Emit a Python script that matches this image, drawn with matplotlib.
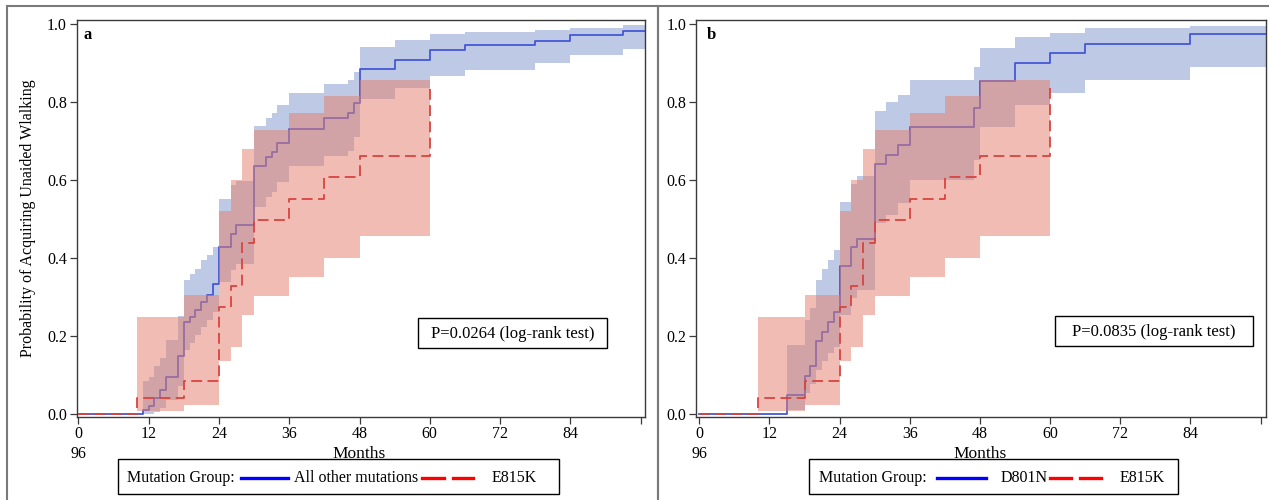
# Kaplan-Meier style curves: acquisition of unaided walking by mutation group.
import numpy as np
import matplotlib.pyplot as plt
from matplotlib.lines import Line2D
from matplotlib.patches import Rectangle

plt.rcParams["font.family"] = "Liberation Serif"

# ---- data ---------------------------------------------------------------
month_ticks = [0, 12, 24, 36, 48, 60, 72, 84, 96]
prob_ticks = [0.0, 0.2, 0.4, 0.6, 0.8, 1.0]

# panel a: all other mutations
other_t = [0, 11, 12, 13, 14, 15, 17, 18, 19, 20, 21, 22, 23, 24, 26, 27, 30,
           32, 33, 34, 36, 42, 46, 47, 48, 54, 60, 66, 78, 84, 93]
other_p = [0, 0.01, 0.02, 0.04, 0.06, 0.095, 0.147, 0.236, 0.249, 0.266, 0.287,
           0.304, 0.334, 0.428, 0.462, 0.483, 0.635, 0.658, 0.671, 0.694, 0.732,
           0.759, 0.771, 0.797, 0.884, 0.908, 0.933, 0.946, 0.958, 0.971, 0.982]
other_lo = [0, 0.0, 0.0, 0.005, 0.015, 0.035, 0.07, 0.164, 0.181, 0.202, 0.223,
            0.24, 0.262, 0.338, 0.368, 0.385, 0.53, 0.556, 0.569, 0.594, 0.637,
            0.662, 0.675, 0.709, 0.807, 0.836, 0.867, 0.882, 0.901, 0.92, 0.935]
other_hi = [0, 0.083, 0.095, 0.121, 0.142, 0.189, 0.25, 0.343, 0.358, 0.372,
            0.394, 0.407, 0.428, 0.552, 0.588, 0.598, 0.739, 0.76, 0.773, 0.792,
            0.824, 0.846, 0.856, 0.877, 0.941, 0.959, 0.974, 0.98, 0.986, 0.99,
            0.997]

# panel b: D801N
d801n_t = [0, 15, 18, 19, 20, 21, 22, 23, 24, 26, 27, 30, 32, 34, 36, 47, 48,
           54, 60, 66, 84]
d801n_p = [0, 0.049, 0.097, 0.121, 0.187, 0.21, 0.236, 0.26, 0.378, 0.428,
           0.449, 0.641, 0.665, 0.69, 0.735, 0.784, 0.854, 0.901, 0.925, 0.948,
           0.974]
d801n_lo = [0, 0.008, 0.053, 0.075, 0.112, 0.134, 0.155, 0.172, 0.253, 0.296,
            0.317, 0.49, 0.51, 0.54, 0.6, 0.65, 0.735, 0.793, 0.824, 0.857, 0.89]
d801n_hi = [0, 0.176, 0.24, 0.27, 0.344, 0.372, 0.395, 0.421, 0.543, 0.59, 0.61,
            0.777, 0.8, 0.818, 0.856, 0.891, 0.939, 0.968, 0.978, 0.989, 0.995]

# both panels: E815K
e815k_t = [0, 10, 18, 24, 26, 28, 30, 36, 42, 48, 60]
e815k_p = [0, 0.04, 0.084, 0.274, 0.327, 0.439, 0.496, 0.55, 0.607, 0.662, 0.836]
e815k_lo = [0, 0.006, 0.023, 0.134, 0.172, 0.253, 0.302, 0.351, 0.40, 0.455, 0.455]
e815k_hi = [0, 0.249, 0.304, 0.52, 0.60, 0.68, 0.728, 0.773, 0.816, 0.856, 0.856]

p_values = ["P=0.0264 (log-rank test)", "P=0.0835 (log-rank test)"]
group_labels = ["All other mutations", "D801N"]

# ---- styling --------------------------------------------------------------
W, H = 1269, 500
BLUE_BAND = "#bdc9e5"
PINK_BAND = "#e38270"
BLUE_LINE = "#4657d6"
RED_LINE = "#d84440"
FRAME = "#3a3a3a"


def fx(x):
  return x / W


def fy(y):
  return 1 - y / H


fig = plt.figure(figsize=(12.69, 5.0), dpi=100)

# outer panel frames
for x0, x1 in [(6.7, 657.7), (657.7, 1275)]:
  fig.add_artist(Rectangle((fx(x0), fy(510)), fx(x1 - x0), (510 - 6) / H,
                           transform=fig.transFigure, fill=False,
                           edgecolor="#7a7a7a", linewidth=1.5))


def draw_panel(ax, t, p, lo, hi, xmin, xmax, tag, pval, box):
  t_end = np.append(t, 96.9)
  ax.fill_between(t_end, np.append(lo, lo[-1]), np.append(hi, hi[-1]),
                  step="post", color=BLUE_BAND, linewidth=0, zorder=1)
  ax.step(t_end, np.append(p, p[-1]), where="post", color=BLUE_LINE,
          linewidth=1.3, zorder=2)
  ax.fill_between(e815k_t, e815k_lo, e815k_hi, step="post", color=PINK_BAND,
                  alpha=0.53, linewidth=0, zorder=3)
  ax.step(e815k_t, e815k_p, where="post", color=RED_LINE, linewidth=1.3,
          dashes=(6, 3), zorder=4)

  ax.set_xlim(xmin, xmax)
  ax.set_ylim(-0.008, 1.012)
  ax.set_xticks(month_ticks)
  ax.set_xticklabels(["0\n96"] + [str(m) for m in month_ticks[1:-1]] + [""])
  ax.set_yticks(prob_ticks)
  ax.set_yticklabels([f"{v:.1f}" for v in prob_ticks])
  ax.tick_params(direction="out", length=5, width=0.9, color=FRAME,
                 labelsize=11.5, pad=2)
  ax.xaxis.get_majorticklabels()[0].set_linespacing(1.3)
  for s in ax.spines.values():
    s.set_color(FRAME)
    s.set_linewidth(1.0)

  ax.text(0.012 if tag == "a" else 0.019, 0.961, tag, transform=ax.transAxes,
          ha="left", va="center", fontsize=12, fontweight="bold")

  # p-value box
  bx0, by0, bx1, by1 = box
  fig.add_artist(Rectangle((fx(bx0), fy(by1)), fx(bx1 - bx0), (by1 - by0) / H,
                           transform=fig.transFigure, fill=False,
                           edgecolor="black", linewidth=1.0))
  fig.text(fx((bx0 + bx1) / 2), fy((by0 + by1) / 2 + 1), pval, ha="center",
           va="center", fontsize=12)


ax_a = fig.add_axes([fx(76.7), fy(416.7), fx(645 - 76.7), (416.7 - 19.5) / H])
draw_panel(ax_a, other_t, other_p, other_lo, other_hi, -0.27, 96.73, "a",
           p_values[0], (418, 318, 607, 348))

ax_b = fig.add_axes([fx(696), fy(416.7), fx(1265.7 - 696), (416.7 - 19.5) / H])
draw_panel(ax_b, d801n_t, d801n_p, d801n_lo, d801n_hi, -0.56, 96.86, "b",
           p_values[1], (1055, 316, 1253, 346))

fig.text(fx(28), fy(218), "Probability of Acquiring Unaided Wlalking",
         rotation=90, ha="center", va="center", fontsize=11.5)
for xc in (359, 980):
  fig.text(fx(xc), fy(454), "Months", ha="center", va="center", fontsize=12.5)


def draw_legend(box, text_x, blue_x, label, label_x, red_x, e_x):
  bx0, bx1 = box
  fig.add_artist(Rectangle((fx(bx0), fy(494)), fx(bx1 - bx0), 35 / H,
                           transform=fig.transFigure, fill=False,
                           edgecolor="black", linewidth=1.0))
  yc = fy(478)
  fig.text(fx(text_x), yc, "Mutation Group:", ha="left", va="center",
           fontsize=11.5)
  fig.add_artist(Line2D([fx(blue_x[0]), fx(blue_x[1])], [yc, yc],
                        transform=fig.transFigure, color="#0000ff",
                        linewidth=2.4))
  fig.text(fx(label_x), yc, label, ha="left", va="center", fontsize=11.5)
  for r0, r1 in red_x:
    fig.add_artist(Line2D([fx(r0), fx(r1)], [yc, yc],
                          transform=fig.transFigure, color="#ff0000",
                          linewidth=2.4))
  fig.text(fx(e_x), yc, "E815K", ha="left", va="center", fontsize=11.5)


draw_legend((118, 559), 127, (241, 288), group_labels[0], 294,
            [(422, 444), (453, 473)], 492)
draw_legend((809, 1178), 819, (937, 986), group_labels[1], 1001,
            [(1050, 1071), (1080, 1101)], 1120)

fig.savefig("out.png", dpi=100)
